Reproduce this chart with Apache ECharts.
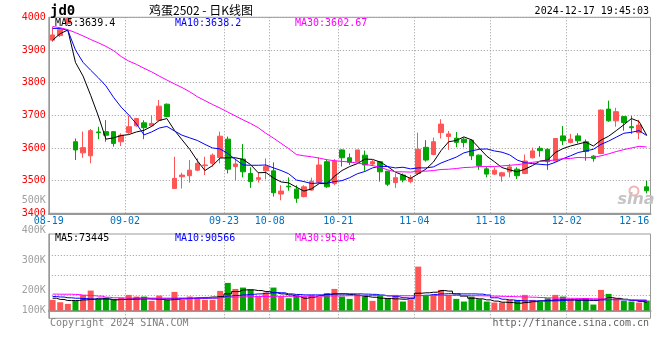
<!DOCTYPE html>
<html><head><meta charset="utf-8">
<script src="https://cdn.jsdelivr.net/npm/echarts@6/dist/echarts.min.js"></script>
<style>html,body{margin:0;padding:0;background:#fff}#c{width:660px;height:360px}</style>
</head><body><div id="c"></div>
<script>
const dates = ["08-19","08-20","08-21","08-22","08-23","08-26","08-27","08-28","08-29","08-30",
"09-02","09-03","09-04","09-05","09-06","09-09","09-10","09-11","09-12","09-13",
"09-18","09-19","09-20","09-23","09-24","09-25","09-26","09-27","09-30",
"10-08","10-09","10-10","10-11","10-14","10-15","10-16","10-17","10-18",
"10-21","10-22","10-23","10-24","10-25","10-28","10-29","10-30","10-31","11-01",
"11-04","11-05","11-06","11-07","11-08","11-11","11-12","11-13","11-14","11-15",
"11-18","11-19","11-20","11-21","11-22","11-25","11-26","11-27","11-28","11-29",
"12-02","12-03","12-04","12-05","12-06","12-09","12-10","12-11","12-12","12-13","12-16"];
const tickLabels = ["08-19","09-02","09-23","10-08","10-21","11-04","11-18","12-02","12-16"];

const open = [3930,3944,3981,3619,3585,3576,3649,3650,3650,3619,
3647,3668,3677,3668,3685,3734,3476,3512,3515,3532,
3546,3553,3571,3627,3543,3566,3522,3504,3530,3530,
3459,3483,3474,3451,3471,3495,3558,3491,3594,3570,
3558,3578,3551,3558,3529,3494,3517,3497,3522,3602,
3580,3647,3635,3630,3627,3624,3578,3536,3520,3514,
3527,3535,3522,3570,3599,3596,3560,3637,3617,3637,
3619,3575,3583,3719,3683,3696,3665,3647,3481];
const close = [3946,3962,3996,3594,3601,3653,3647,3639,3614,3639,
3665,3690,3662,3675,3728,3696,3507,3517,3532,3553,
3548,3578,3636,3535,3551,3527,3497,3509,3543,3463,
3468,3481,3446,3481,3497,3548,3481,3560,3570,3556,
3594,3548,3558,3527,3489,3509,3502,3507,3596,3563,
3619,3673,3643,3617,3617,3576,3546,3520,3532,3524,
3542,3515,3560,3591,3592,3558,3629,3622,3627,3622,
3589,3568,3716,3683,3711,3678,3662,3670,3469];
const low = [3925,3940,3976,3563,3570,3553,3627,3619,3604,3606,
3643,3665,3627,3665,3683,3694,3476,3476,3494,3529,
3517,3543,3553,3522,3500,3510,3478,3494,3504,3451,
3440,3469,3432,3449,3469,3492,3478,3486,3543,3548,
3555,3530,3545,3497,3483,3478,3495,3492,3517,3558,
3578,3629,3594,3602,3602,3563,3533,3510,3517,3497,
3510,3505,3520,3568,3573,3533,3558,3609,3614,3614,
3561,3558,3581,3680,3665,3653,3643,3627,3461];
const high = [3971,3966,4000,3629,3650,3658,3665,3685,3652,3645,
3698,3692,3685,3700,3747,3736,3573,3524,3563,3568,
3573,3583,3650,3635,3568,3612,3541,3525,3568,3556,
3486,3510,3486,3486,3509,3571,3566,3566,3596,3583,
3594,3592,3563,3558,3529,3522,3522,3517,3647,3624,
3632,3688,3652,3649,3632,3627,3580,3543,3541,3527,
3551,3541,3580,3601,3606,3599,3629,3667,3643,3645,
3626,3578,3718,3745,3723,3698,3698,3686,3500];

const ma5 = [3930,3950,3961,3862,3820,3761,3698,3627,3631,3638,
3641,3649,3654,3666,3684,3690,3654,3625,3596,3561,
3531,3546,3569,3570,3570,3565,3549,3524,3525,3508,
3496,3493,3480,3468,3475,3491,3491,3513,3531,3543,
3552,3566,3565,3557,3543,3526,3517,3507,3521,3535,
3557,3592,3619,3623,3634,3625,3600,3575,3558,3540,
3533,3527,3535,3546,3560,3563,3586,3598,3606,3612,
3618,3606,3624,3636,3653,3671,3690,3681,3639];
const ma10 = [3966,3966,3960,3900,3862,3838,3815,3790,3755,3725,
3701,3674,3640,3649,3661,3666,3652,3639,3631,3623,
3611,3600,3597,3583,3565,3548,3547,3547,3548,3539,
3531,3521,3502,3497,3491,3493,3492,3497,3500,3509,
3521,3528,3539,3544,3543,3539,3541,3536,3539,3539,
3542,3554,3563,3572,3585,3591,3596,3597,3591,3587,
3579,3563,3555,3552,3550,3548,3556,3567,3576,3586,
3591,3596,3611,3621,3633,3645,3648,3653,3638];
const ma30 = [3972,3968,3962,3953,3943,3932,3922,3911,3898,3880,
3866,3856,3844,3833,3820,3808,3796,3785,3772,3757,
3745,3733,3722,3710,3698,3686,3675,3662,3645,3630,
3614,3598,3580,3576,3573,3569,3564,3561,3559,3557,
3554,3550,3546,3541,3533,3527,3527,3526,3529,3529,
3531,3534,3535,3537,3540,3541,3543,3543,3543,3545,
3547,3549,3552,3556,3559,3560,3564,3567,3568,3571,
3570,3571,3576,3582,3589,3595,3600,3605,3603];

// volume in thousands (K)
const volume = [96,75,60,87,141,180,105,117,96,117,
141,126,126,87,135,96,168,96,126,111,
96,96,177,249,195,207,192,126,162,207,
126,111,141,126,141,126,156,195,126,105,
147,126,87,141,111,141,81,102,396,132,
141,186,141,105,81,126,102,81,72,72,
96,96,141,96,81,111,141,126,96,96,
111,54,186,150,111,87,81,72,90];
const volMa5 = [111,100,90,90,96,100,111,105,96,100,
105,111,111,105,100,96,100,105,111,115,
118,122,126,150,171,186,186,180,171,160,
150,141,126,111,120,135,147,150,150,145,
135,126,120,111,108,105,102,111,156,160,
165,180,175,150,130,111,105,96,85,75,
72,66,72,80,87,92,96,96,96,93,
90,90,102,117,110,102,92,82,73.4];
const volMa10 = [126,122,115,111,108,105,102,102,100,100,
100,102,104,105,105,107,108,108,108,110,
110,112,120,130,136,141,146,150,156,162,
160,150,145,141,141,141,145,150,150,150,
150,148,146,140,132,125,115,111,135,138,
145,150,152,150,150,150,148,140,115,102,
96,90,87,87,87,87,88,92,96,96,
96,96,96,98,98,96,92,91,90.6];
const volMa30 = [148,147,147,145,138,134,130,120,115,113,
112,112,112,112,112,112,113,113,113,113,
114,114,116,120,122,124,126,126,127,128,
128,128,128,129,129,130,131,132,133,134,
134,135,135,135,134,134,133,133,135,135,
136,136,136,135,135,134,133,132,130,128,
126,124,122,120,117,114,112,111,110,109,
108,106,105,103,101,99,97,96,95.1];
const volGridLines = [137, 317, 498];
const volTickLabels = [100, 200, 300, 400, 500];

const priceHeader = ["MA5:3639.4", "MA10:3638.2", "MA30:3602.67"];
const volHeader = ["MA5:73445", "MA10:90566", "MA30:95104"];
const titleText = "鸡蛋2502 - 日K线图";
const symbolText = "jd0";
const timeText = "2024-12-17 19:45:03";

const RED = '#ff5555', GREEN = '#00a600';
const MA_COLORS = ['#000000', '#0000ff', '#ff00ff'];
const FONT = '"DejaVu Sans Mono", monospace';
const GRIDC = '#9a9a9a';

const candles = dates.map((d, i) => [open[i], close[i], low[i], high[i]]);
const volData = volume.map((v, i) => ({value: v, itemStyle: {color: close[i] >= open[i] ? RED : GREEN}}));

const isTick = (i) => tickLabels.indexOf(dates[i]) >= 0;
// vertical grid lines: at the left edge of each labelled day's band (not for the last label)
const vGridIdx = tickLabels.map(t => dates.indexOf(t)).filter(i => i > 0 && i < dates.length - 1);
const dotted = {color: GRIDC, type: [1, 2], width: 1};

function vGridCarrier(xi, yi) {
  // invisible carrier series on a hidden slot-edge value axis; its markLines are the vertical grid lines
  return {type: 'scatter', xAxisIndex: xi, yAxisIndex: yi, data: [], silent: true, z: 1,
    markLine: {silent: true, symbol: 'none', z: 1, label: {show: false}, lineStyle: dotted,
      emphasis: {disabled: true}, animation: false,
      data: vGridIdx.map(i => ({xAxis: i}))}};
}

function headerTexts(arr, y) {
  const xs = [55, 175, 295];
  return arr.map((t, i) => ({type: 'text', x: xs[i], y: y, z: 10,
    style: {text: t, fill: MA_COLORS[i], font: '10px ' + FONT, textAlign: 'left', textVerticalAlign: 'middle', align: 'left', verticalAlign: 'middle'}}));
}

const chart = echarts.init(document.getElementById('c'), null, {renderer: 'canvas'});

const option = {
  animation: false,
  backgroundColor: '#ffffff',
  grid: [
    {left: 48.8, right: 9.5, top: 17.3, height: 196, show: true, borderColor: '#999', borderWidth: 1, outerBoundsMode: 'none'},
    {left: 48.8, right: 9.5, top: 234, height: 84.3, show: true, borderColor: '#999', borderWidth: 1, outerBoundsMode: 'none'},
    {left: 48.8, right: 9.5, top: 200.7, height: 120, show: false, outerBoundsMode: 'none'}
  ],
  xAxis: [
    {type: 'category', gridIndex: 0, data: dates, boundaryGap: true,
      axisLine: {show: true, lineStyle: {color: '#999', width: 2}},
      axisTick: {show: false},
      axisLabel: {interval: isTick, margin: 3, color: '#0070c0', fontFamily: FONT, fontSize: 10,
        formatter: (v, i) => (i === dates.length - 1 ? '{l|' : '{m|') + v + '}',
        rich: {
          m: {color: '#0070c0', fontFamily: FONT, fontSize: 10, padding: [0, 7.6, 0, 0]},
          l: {color: '#0070c0', fontFamily: FONT, fontSize: 10, padding: [0, 25, 0, 0]}
        }},
      splitLine: {show: false}},
    {type: 'category', gridIndex: 1, data: dates, boundaryGap: true,
      axisLine: {show: true, lineStyle: {color: '#999', width: 2}},
      axisTick: {show: false}, axisLabel: {show: false}, splitLine: {show: false}},
    {type: 'category', gridIndex: 2, data: dates, show: false},
    {type: 'value', gridIndex: 0, min: 0, max: dates.length, show: false, splitLine: {show: false}},
    {type: 'value', gridIndex: 1, min: 0, max: dates.length, show: false, splitLine: {show: false}}
  ],
  yAxis: [
    {type: 'value', gridIndex: 0, min: 3400, max: 4000, interval: 100,
      axisLine: {show: true, lineStyle: {color: '#999', width: 1}}, axisTick: {show: false},
      axisLabel: {color: '#ff0000', fontFamily: FONT, fontSize: 10, margin: 3, formatter: v => String(v)},
      splitLine: {show: true, lineStyle: dotted}},
    {type: 'value', gridIndex: 1, min: -70, max: 690,
      axisLine: {show: true, lineStyle: {color: '#999', width: 1}}, axisTick: {show: false},
      axisLabel: {show: false}, splitLine: {show: false}},
    {type: 'value', gridIndex: 2, min: volTickLabels[0], max: volTickLabels[volTickLabels.length - 1], interval: 100,
      axisLine: {show: false}, axisTick: {show: false}, splitLine: {show: false},
      axisLabel: {margin: 3, color: '#a0a0a0', fontFamily: FONT, fontSize: 10,
        formatter: v => (v === volTickLabels[0] ? '{b|' : '{a|') + v + 'K}',
        rich: {
          a: {color: '#a0a0a0', fontFamily: FONT, fontSize: 10},
          b: {color: '#a0a0a0', fontFamily: FONT, fontSize: 10, padding: [0, 0, 20, 0]}
        }}}
  ],
  series: [
    vGridCarrier(3, 0),
    vGridCarrier(4, 1),
    {type: 'candlestick', xAxisIndex: 0, yAxisIndex: 0, data: candles, barWidth: 5, z: 2,
      itemStyle: {color: RED, color0: GREEN, borderColor: RED, borderColor0: GREEN, borderWidth: 1}},
    {type: 'line', xAxisIndex: 0, yAxisIndex: 0, data: ma5, symbol: 'none', lineStyle: {color: MA_COLORS[0], width: 1}, z: 3},
    {type: 'line', xAxisIndex: 0, yAxisIndex: 0, data: ma10, symbol: 'none', lineStyle: {color: MA_COLORS[1], width: 1}, z: 3},
    {type: 'line', xAxisIndex: 0, yAxisIndex: 0, data: ma30, symbol: 'none', lineStyle: {color: MA_COLORS[2], width: 1}, z: 3},
    {type: 'bar', xAxisIndex: 1, yAxisIndex: 1, data: volData, barWidth: 6, z: 2,
      markLine: {silent: true, symbol: 'none', z: 0, label: {show: false}, lineStyle: dotted,
        emphasis: {disabled: true}, animation: false,
        data: volGridLines.map(v => ({yAxis: v}))}},
    {type: 'line', xAxisIndex: 1, yAxisIndex: 1, data: volMa5, step: 'middle', symbol: 'none', lineStyle: {color: MA_COLORS[0], width: 1}, z: 3},
    {type: 'line', xAxisIndex: 1, yAxisIndex: 1, data: volMa10, step: 'middle', symbol: 'none', lineStyle: {color: MA_COLORS[1], width: 1}, z: 3},
    {type: 'line', xAxisIndex: 1, yAxisIndex: 1, data: volMa30, step: 'middle', symbol: 'none', lineStyle: {color: MA_COLORS[2], width: 1}, z: 3}
  ],
  graphic: [
    {type: 'circle', z: 0, shape: {cx: 634, cy: 191, r: 4.5}, style: {fill: 'none', stroke: '#f3b3b3', lineWidth: 2}},
    {type: 'text', x: 636, y: 200, z: 0, style: {text: 'sina', fill: '#c4c4c4', font: 'italic bold 16px "DejaVu Sans"', textAlign: 'center', textVerticalAlign: 'middle', align: 'center', verticalAlign: 'middle'}},
    {type: 'text', x: 50, y: 11, z: 10, style: {text: symbolText, fill: '#000', font: 'bold 14px ' + FONT, textAlign: 'left', textVerticalAlign: 'middle', align: 'left', verticalAlign: 'middle'}},
    {type: 'text', x: 201, y: 10, z: 10, style: {text: titleText, fill: '#000', font: '12px "Noto Sans CJK SC", sans-serif', textAlign: 'center', textVerticalAlign: 'middle', align: 'center', verticalAlign: 'middle'}},
    {type: 'text', x: 649, y: 11.5, z: 10, style: {text: timeText, fill: '#000', font: '10px ' + FONT, textAlign: 'right', textVerticalAlign: 'middle', align: 'right', verticalAlign: 'middle'}},
    {type: 'text', x: 50, y: 323, z: 10, style: {text: 'Copyright 2024 SINA.COM', fill: '#808080', font: '10px ' + FONT, textAlign: 'left', textVerticalAlign: 'middle', align: 'left', verticalAlign: 'middle'}},
    {type: 'text', x: 649, y: 323, z: 10, style: {text: 'http://finance.sina.com.cn', fill: '#606060', font: '10px ' + FONT, textAlign: 'right', textVerticalAlign: 'middle', align: 'right', verticalAlign: 'middle'}}
  ].concat(headerTexts(priceHeader, 23.7), headerTexts(volHeader, 238.7))
};
chart.setOption(option);
</script>
</body></html>
